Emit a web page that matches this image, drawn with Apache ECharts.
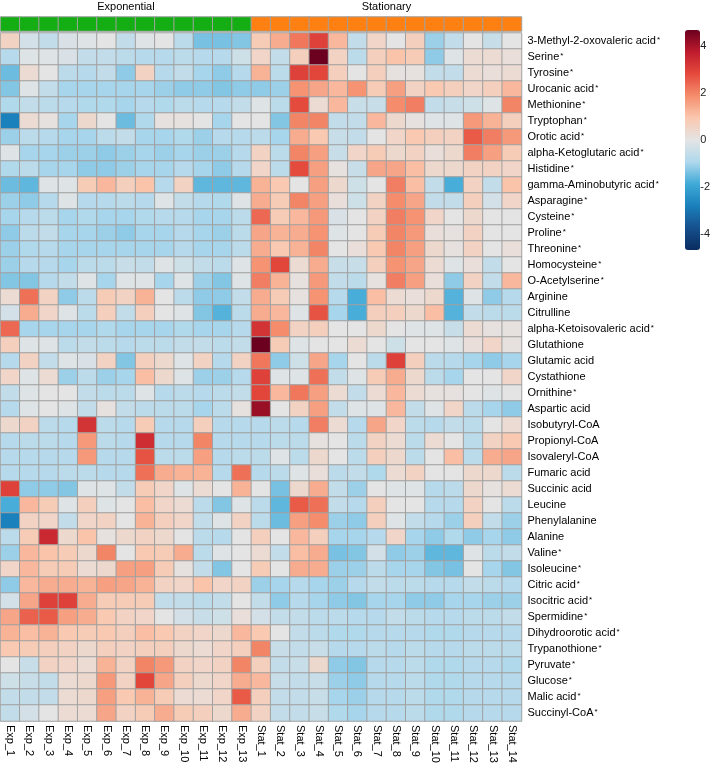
<!DOCTYPE html>
<html><head><meta charset="utf-8">
<script src="https://cdn.jsdelivr.net/npm/echarts@6/dist/echarts.min.js"></script>
<style>html,body{margin:0;padding:0;background:#fff}#c{width:713px;height:770px}</style>
</head><body><div id="c"></div>
<script>
const colLabels = ['Exp_1','Exp_2','Exp_3','Exp_4','Exp_5','Exp_6','Exp_7','Exp_8','Exp_9','Exp_10','Exp_11','Exp_12','Exp_13',
  'Stat_1','Stat_2','Stat_3','Stat_4','Stat_5','Stat_6','Stat_7','Stat_8','Stat_9','Stat_10','Stat_11','Stat_12','Stat_13','Stat_14'];
const colGroup = ['Exponential','Exponential','Exponential','Exponential','Exponential','Exponential','Exponential','Exponential','Exponential','Exponential','Exponential','Exponential','Exponential',
  'Stationary','Stationary','Stationary','Stationary','Stationary','Stationary','Stationary','Stationary','Stationary','Stationary','Stationary','Stationary','Stationary','Stationary'];
const groupNames = ['Exponential','Stationary'];
const groupColors = ['#14AE14','#FF8012'];
const rowLabels = ['3-Methyl-2-oxovaleric acid*','Serine*','Tyrosine*','Urocanic acid*','Methionine*','Tryptophan*','Orotic acid*',
  'alpha-Ketoglutaric acid*','Histidine*','gamma-Aminobutyric acid*','Asparagine*','Cysteine*','Proline*','Threonine*','Homocysteine*',
  'O-Acetylserine*','Arginine','Citrulline','alpha-Ketoisovaleric acid*','Glutathione','Glutamic acid','Cystathione','Ornithine*',
  'Aspartic acid','Isobutyryl-CoA','Propionyl-CoA','Isovaleryl-CoA','Fumaric acid','Succinic acid','Leucine','Phenylalanine','Alanine',
  'Valine*','Isoleucine*','Citric acid*','Isocitric acid*','Spermidine*','Dihydroorotic acid*','Trypanothione*','Pyruvate*','Glucose*',
  'Malic acid*','Succinyl-CoA*'];
const legendTicks = [-4,-2,0,2,4];
const scaleMin = -4.7, scaleMax = 4.7;

// one row per metabolite, Exp_1..Exp_13
const expValues = [
 [0.6,-0.3,-0.6,-0.2,-0.1,0,-0.6,-0.1,0,-0.7,-1.4,-1.4,-1.3],
 [-0.8,-0.1,-0.1,-0.2,-0.6,-0.6,-0.7,-0.8,-0.8,-0.7,-0.8,-0.8,-0.4],
 [-1.5,0.3,0,-0.7,-0.8,-0.6,-1.2,0.6,-0.8,-0.6,-1.0,-1.2,-0.8],
 [-1.3,-0.1,-0.6,-1.0,-1.0,-1.0,-1.0,-1.0,-1.1,-1.2,-1.2,-1.3,-1.2],
 [-0.9,-0.6,-0.7,-0.8,-0.9,-0.9,-1.0,-0.8,-0.9,-0.7,-0.8,-0.8,-0.6],
 [-2.8,0.3,0.1,-1.0,0.4,0,-1.5,-0.9,0.1,0.1,0,-1.0,0],
 [-1.1,-0.7,-0.8,-1.0,-1.0,-0.7,-0.6,-1.0,-1.0,-0.9,-1.1,-0.8,-0.8],
 [-0.1,-1.0,-1.0,-1.1,-1.1,-1.2,-1.1,-1.0,-1.1,-1.0,-1.1,-1.1,-0.8],
 [-0.9,-0.7,-1.0,-1.0,-1.2,-1.2,-1.1,-1.0,-1.0,-0.8,-1.0,-1.2,-0.8],
 [-1.5,-1.6,-0.1,-0.1,0.8,1.2,0.7,1.0,-0.8,0.6,-1.6,-1.6,-1.6],
 [-1.1,-1.2,-0.8,-0.1,-0.8,-0.8,-0.7,-0.8,-0.1,-0.6,-0.8,-0.9,-0.1],
 [-1.0,-0.8,-0.7,-1.0,-0.9,-1.0,-1.0,-0.9,-0.8,-0.8,-1.0,-1.0,-0.7],
 [-1.2,-0.7,-0.6,-1.0,-1.0,-1.1,-1.2,-1.0,-1.0,-0.8,-1.0,-1.1,-0.7],
 [-1.1,-0.9,-0.8,-1.0,-1.0,-1.0,-1.0,-1.0,-1.0,-0.8,-1.0,-1.0,-0.7],
 [-1.1,-0.8,-0.8,-1.0,-0.7,-0.7,-0.5,-0.6,-0.1,-0.4,-0.6,-0.7,-0.1],
 [-1.3,-1.3,-0.8,-0.6,-0.1,-1.0,-0.1,-0.1,-1.0,-0.1,-1.1,-1.3,-0.1],
 [0.3,2.3,0.6,-1.2,-0.7,0.8,0.6,1.3,0,-0.7,-1.2,-1.2,-0.6],
 [-0.3,1.4,0.5,-0.1,-0.7,0.7,-0.6,0.7,0,-0.1,-1.3,-1.7,-0.7],
 [2.4,-1.0,-1.0,-1.0,-1.0,-0.9,-1.0,-1.0,-1.0,-0.9,-1.0,-1.0,-0.8],
 [0.7,-0.1,-0.1,-0.7,-0.6,-0.7,-0.8,-0.7,-0.7,-0.6,-0.6,-0.7,-0.6],
 [-0.8,0.6,-0.6,-0.1,-0.2,0.6,-1.3,0.7,0.4,-0.1,0.6,-0.8,0.6],
 [0.5,-0.1,0.3,-1.1,-0.7,-1.1,-1.0,1.1,0.4,-0.1,-1.1,-1.1,-0.8],
 [-0.6,-0.1,0,0,-0.6,-0.7,-0.7,-0.1,-0.8,-0.7,-0.8,-0.7,-0.6],
 [-0.8,-0.1,0,-0.1,-0.6,0.1,-0.6,-0.7,-0.7,-0.7,-1.0,-0.7,0.1],
 [0.4,0.6,-0.7,-0.8,3.3,-0.7,-0.8,0.8,-0.8,-0.8,0.7,-0.8,-0.8],
 [-0.8,-0.7,-0.7,-0.8,1.7,-0.7,-0.8,3.4,-0.8,-0.8,2.0,-0.8,-0.8],
 [-0.8,-0.8,-0.8,-0.8,1.7,-0.8,-0.8,2.7,-0.7,-0.7,1.6,-0.8,-0.7],
 [-0.8,-0.8,-0.8,-0.7,-0.7,-0.8,-0.8,2.3,1.4,1.3,1.3,-0.8,2.3],
 [3.0,-1.2,-1.2,-1.3,-0.1,-0.1,-0.6,0.8,0.5,-0.1,0.3,0,1.3],
 [-1.8,1.2,0.8,-0.1,0.7,-0.1,0,1.1,0.5,0.3,-0.7,-1.3,-0.1],
 [-2.8,0.6,0.5,-0.6,0.5,0.6,0,1.3,0.7,0.5,-0.6,-0.1,0.6],
 [-0.7,0.8,3.5,0.4,1.0,0.1,0.4,0.6,0.4,0,-0.7,-0.8,0],
 [-1.1,1.2,1.0,0.8,0.4,2.0,0,0.9,0.8,1.4,-0.7,-0.1,0],
 [0.5,1.2,0.8,0.8,0.3,0.4,1.6,1.6,0.8,0.1,-0.6,-1.3,0],
 [-1.2,1.2,1.4,1.4,1.3,1.6,1.5,1.3,0.6,0.5,1.0,0.5,0.6],
 [-0.3,1.5,3.0,3.0,1.4,0.8,0.8,0.8,-0.6,-0.6,-0.7,-0.6,0],
 [1.5,2.5,2.6,1.6,1.4,0.9,0.6,0.5,0,-0.3,-0.5,-0.4,0.2],
 [1.3,1.1,1.3,0.9,0.8,0.9,0.7,1.1,0.9,0.6,0.5,0.4,1.2],
 [0.9,0.8,0.7,0.6,0.4,0.7,0.6,0.7,0.7,0.4,0.3,0.5,0.7],
 [0,-0.5,0.6,0.5,0.3,1.3,0.6,2.0,1.7,0.6,0.5,0.6,2.0],
 [-0.4,-0.5,-0.6,0.3,0.4,1.7,0.6,2.9,1.5,0.7,0.4,0.5,1.4],
 [-0.6,-0.6,-0.6,0.3,0.4,1.6,0.9,1.3,0.8,0.3,0.3,0.5,2.6],
 [-0.6,-0.3,0,0.3,0.3,1.5,0.6,0.8,1.4,0.8,0.7,0.4,1.4]
];
// one row per metabolite, Stat_1..Stat_14
const statValues = [
 [0.8,1.4,2.2,3.0,1.2,-0.6,0.5,0,0.7,-1.1,-0.6,0,-0.5,0],
 [0.5,-0.6,0.7,4.7,0.6,-0.7,0.7,1.0,0.8,-1.2,-0.1,0.3,0.3,0.2],
 [1.3,-0.7,3.0,2.9,0.7,0,0.7,0.1,0.1,-0.6,-0.6,0.3,0.2,0.3],
 [-1.2,-1.1,1.8,1.5,1.2,1.8,0.8,1.6,0.6,0.9,0.7,0.5,0.7,1.2],
 [-0.1,-0.7,2.8,0.3,1.2,-0.5,-0.5,1.9,2.1,-0.6,-0.5,-0.4,-0.1,2.0],
 [0,-1.3,2.0,2.0,-0.6,-0.6,1.2,0.4,0.1,-0.1,-0.1,1.7,1.3,0.7],
 [-0.7,-1.0,1.4,0.9,-0.5,-0.6,0,0.5,0.9,0.7,0.6,2.6,2.1,1.7],
 [0.6,-0.7,2.0,1.6,-0.5,0.5,0.8,0.4,0.6,0.2,0.4,2.1,1.6,0.8],
 [0.5,-0.7,2.8,1.6,0.1,-0.5,1.5,1.5,1.1,0.4,0.4,0.6,0.6,0.5],
 [1.3,0.9,0,1.6,0.4,-0.4,0,2.1,1.1,-0.6,-1.8,0.6,-0.6,1.0],
 [1.4,0.8,2.0,1.6,0.2,-0.4,0.6,1.9,1.5,-0.6,-0.6,0.7,-0.3,0.5],
 [2.4,0.8,1.2,1.7,-0.2,0,0.6,2.1,1.8,0.5,0,0.4,0,0],
 [1.5,1.3,1.4,1.8,-0.1,0,0.8,2.0,1.7,0.2,0.1,0.6,0,0],
 [1.4,0.9,1.3,2.0,0,0.2,0.9,2.0,1.6,0.4,0.1,0.6,0,0.2],
 [1.8,2.9,0.3,1.4,-0.5,-0.5,0.7,1.8,1.5,0.3,-0.1,0.2,-0.6,0],
 [2.1,1.3,0.1,1.7,-0.6,-0.7,0.1,2.1,1.6,0.2,-1.2,0.6,-0.6,1.2],
 [1.4,0.8,0.1,1.8,-0.8,-1.8,1.1,0.3,0.2,0.4,-1.7,-0.1,-1.2,-0.8],
 [1.4,1.2,-0.1,2.7,-1.0,-1.8,0.7,0.7,0.4,1.1,-1.7,-0.6,-0.7,-0.7],
 [3.3,1.9,0.6,0.7,0,0,0.4,0,-0.1,-0.1,-0.5,0.3,0.1,0.1],
 [4.7,0.8,-0.1,0,0,0.3,0,-0.4,0,0,-0.1,0.2,0.5,0.1],
 [2.2,-1.2,-0.4,1.5,-1.0,0,-0.7,3.0,0.7,-0.7,-0.8,-1.0,-1.2,-1.0],
 [3.0,-0.1,-0.1,2.3,-0.6,-0.1,0.8,1.4,0.4,-0.7,-1.0,0,0,0.5],
 [2.9,1.2,2.2,1.6,0.3,-0.6,0.3,1.2,0.3,0.1,0.1,0,-0.1,0],
 [4.2,0,0.6,1.6,-0.6,-0.1,-0.1,1.2,-0.6,-0.1,0.5,-0.7,-1.0,-1.2],
 [-0.8,-0.7,-0.8,2.1,0.3,-0.8,1.5,0.5,-0.7,-0.8,-0.6,-0.7,0,0.3],
 [-0.8,-0.7,-0.7,0.1,0,-0.7,0.6,0.3,-0.7,0.3,0,-0.7,0.6,0.9],
 [-0.7,-0.1,-0.7,0.4,0,-0.7,0.7,0.4,-0.7,0,1.1,-0.7,1.4,1.5],
 [-0.8,-0.7,-0.1,0.2,-0.7,-0.6,-0.9,0.3,0.6,0,0,0.4,0.4,-0.7],
 [0,-1.4,0.4,1.4,-0.6,-1.1,0,-0.1,-0.1,-0.8,-0.7,0.4,0.1,0.3],
 [-0.7,-1.6,2.6,2.3,-0.6,-0.8,0.7,0,0,-0.8,-0.8,0.6,0,-0.7],
 [-0.7,-1.5,1.6,1.9,-1.1,-1.2,0.7,-0.1,-0.6,-0.8,-1.1,0.7,-0.6,-1.1],
 [0.7,0,1.2,0.7,-1.0,-1.0,-0.8,0.5,-1.0,-1.2,-0.9,-1.2,-1.0,-1.2],
 [0.3,-0.6,1.1,1.4,-1.4,-1.3,-0.3,-1.2,-1.1,-1.6,-1.6,-0.1,-0.7,-0.6],
 [0.8,0,1.4,1.4,-1.1,-1.1,-0.7,-1.0,-1.0,-1.3,-1.4,0,-1.0,-1.3],
 [-1.1,-1.0,-0.8,-1.0,-1.1,-0.8,-0.6,-0.7,-0.7,-0.8,-0.8,-0.6,-0.7,-0.8],
 [-0.6,-1.2,-0.8,-1.0,-1.2,-1.3,-1.0,-1.0,-1.2,-1.2,-1.0,-1.0,-1.1,-1.1],
 [-0.3,-0.6,-0.6,-0.7,-0.7,-0.8,-0.8,-0.6,-0.7,-0.8,-0.8,-0.7,-0.7,-0.6],
 [0.9,0,-0.6,-0.7,-0.9,-0.9,-0.8,-0.8,-0.8,-0.9,-0.9,-0.8,-0.8,-0.8],
 [2.0,-0.5,-0.6,-0.5,-0.8,-0.8,-0.7,-0.8,-0.7,-0.8,-0.8,-0.7,-0.7,-0.7],
 [0.7,-0.6,-0.5,0.4,-1.2,-1.3,-0.8,-0.8,-0.7,-0.9,-0.9,-0.8,-0.8,-0.9],
 [1.2,-0.5,-0.6,-0.5,-1.1,-1.2,-0.8,-0.8,-0.7,-0.9,-0.9,-0.8,-0.8,-0.8],
 [0.7,-0.6,-0.6,-0.5,-1.0,-1.1,-0.8,-0.8,-0.7,-0.9,-0.9,-0.8,-0.8,-0.8],
 [0.6,-0.6,-0.6,-0.5,-0.9,-1.0,-0.8,-0.8,-0.7,-0.9,-0.9,-0.8,-0.8,-0.8]
];

const FONT = '"Liberation Sans", Arial, sans-serif';
const chart = echarts.init(document.getElementById('c'), null, {renderer: 'canvas'});
const cellData = [];
rowLabels.forEach((name, r) => {
  const row = expValues[r].concat(statValues[r]);
  row.forEach((v, c) => cellData.push([c, r, v]));
});
const annData = colGroup.map((g, i) => {
  const gi = groupNames.indexOf(g);
  return {value: [i, 0, gi], itemStyle: {color: groupColors[gi]}};
});

const option = {
  animation: false,
  backgroundColor: '#fff',
  grid: [
    {left: 0.5, top: 33, width: 521, height: 688},
    {left: 0.5, top: 17, width: 521, height: 14},
    {left: 686, top: 30, width: 14, height: 220}
  ],
  xAxis: [
    {gridIndex: 0, type: 'category', data: colLabels, position: 'bottom',
     axisLine: {show: false}, axisTick: {show: false}, splitLine: {show: false},
     axisLabel: {rotate: -90, margin: 4, fontSize: 11, color: '#000', fontFamily: FONT, interval: 0}},
    {gridIndex: 1, type: 'category', data: colLabels, show: false},
    {gridIndex: 2, type: 'value', min: 0, max: 1, show: false}
  ],
  yAxis: [
    {gridIndex: 0, type: 'category', data: rowLabels, inverse: true, position: 'right',
     axisLine: {show: false}, axisTick: {show: false}, splitLine: {show: false},
     axisLabel: {margin: 6, fontSize: 11, color: '#000', fontFamily: FONT, interval: 0,
       formatter: v => v.endsWith('*') ? v.slice(0, -1) + '{s|*}' : v,
       rich: {s: {fontSize: 8, color: '#000', fontFamily: FONT, verticalAlign: 'top', padding: [0, 0, 0, 1]}}}},
    {gridIndex: 1, type: 'category', data: ['group'], show: false},
    {gridIndex: 2, type: 'value', min: scaleMin, max: scaleMax, position: 'right',
     axisLine: {show: false}, axisTick: {show: false}, splitLine: {show: false},
     axisLabel: {customValues: legendTicks, margin: 3, fontSize: 11, color: '#222', fontFamily: FONT}}
  ],
  visualMap: {
    type: 'continuous', seriesIndex: 0, min: scaleMin, max: scaleMax, calculable: false,
    left: 685, top: 30, itemWidth: 15, itemHeight: 220, padding: 0, hoverLink: false,
    inRange: {color: ['#0A2C5E','#154F8D','#1A80BB','#3FA9D7','#AED8EC','#E4E4E4','#FAC8AF','#F58E6D','#E54A3C','#BF1C2D','#6B001F']}
  },
  series: [
    {type: 'heatmap', xAxisIndex: 0, yAxisIndex: 0, data: cellData,
     itemStyle: {borderColor: '#A0A0A0', borderWidth: 1}, emphasis: {disabled: true}},
    {type: 'heatmap', xAxisIndex: 1, yAxisIndex: 1, data: annData,
     itemStyle: {borderColor: '#A0A0A0', borderWidth: 1}, emphasis: {disabled: true}},
    {type: 'line', xAxisIndex: 2, yAxisIndex: 2, data: []}
  ]
};
chart.setOption(option);

// group titles centred over their columns
const graphics = groupNames.map(g => {
  const first = colGroup.indexOf(g), last = colGroup.lastIndexOf(g);
  const x0 = chart.convertToPixel({xAxisIndex: 1}, first);
  const x1 = chart.convertToPixel({xAxisIndex: 1}, last);
  return {type: 'text', x: (x0 + x1) / 2, y: 7,
    style: {text: g, align: 'center', verticalAlign: 'middle', fontSize: 11, fontFamily: FONT, fill: '#000'}};
});
chart.setOption({graphic: graphics});
</script></body></html>
